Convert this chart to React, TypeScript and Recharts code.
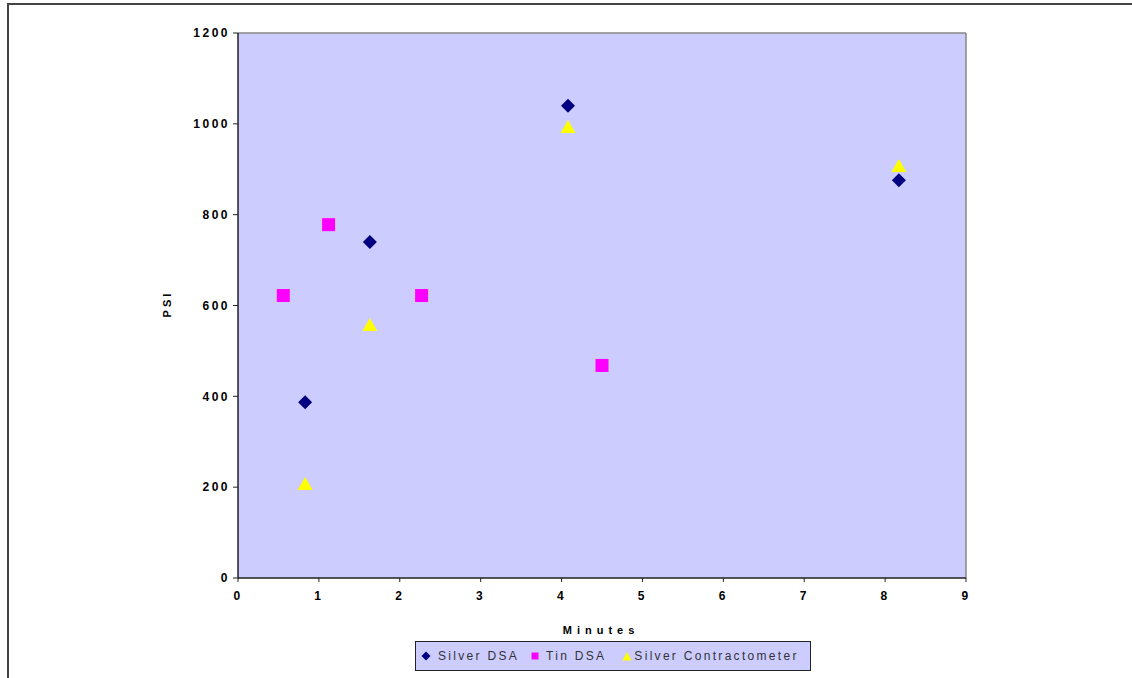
import React from 'react';
import { ScatterChart, Scatter, XAxis, YAxis, CartesianGrid, ReferenceLine, Label } from 'recharts';

const silverDSA = [
  { x: 0.83, y: 387 },
  { x: 1.63, y: 740 },
  { x: 4.08, y: 1040 },
  { x: 8.17, y: 876 },
];
const tinDSA = [
  { x: 0.56, y: 622 },
  { x: 1.12, y: 778 },
  { x: 2.27, y: 622 },
  { x: 4.5, y: 468 },
];
const silverContractometer = [
  { x: 0.83, y: 207 },
  { x: 1.63, y: 557 },
  { x: 4.08, y: 993 },
  { x: 8.17, y: 907 },
];
const xTicks = [0, 1, 2, 3, 4, 5, 6, 7, 8, 9];
const yTicks = [0, 200, 400, 600, 800, 1000, 1200];
const seriesNames = ['Silver DSA', 'Tin DSA', 'Silver Contractometer'];

const FONT = '"Liberation Sans", Arial, sans-serif';

const Diamond = (p: any) => {
  const { cx, cy } = p;
  return <polygon points={`${cx},${cy - 7} ${cx + 7},${cy} ${cx},${cy + 7} ${cx - 7},${cy}`} fill="#000080" />;
};
const Square = (p: any) => {
  const { cx, cy } = p;
  return <rect x={cx - 6.5} y={cy - 6.5} width={13} height={13} fill="#FF00FF" />;
};
const Triangle = (p: any) => {
  const { cx, cy } = p;
  return <polygon points={`${cx},${cy - 7} ${cx + 7.5},${cy + 6} ${cx - 7.5},${cy + 6}`} fill="#FFFF00" />;
};

const tickStyle = { fill: '#000', fontSize: 12, fontWeight: 'bold', fontFamily: FONT, letterSpacing: 2.5 } as any;

const symGap = [7, 6, 2];
const itemGap = [11, 16, 0];

const LegendSym = ({ i }: { i: number }) => {
  const st = { marginRight: symGap[i] };
  if (i === 0)
    return (
      <svg width={10} height={10} style={st}>
        <polygon points="5,0.5 9.5,5 5,9.5 0.5,5" fill="#000080" />
      </svg>
    );
  if (i === 1)
    return (
      <svg width={10} height={10} style={st}>
        <rect x={1.5} y={1.5} width={7} height={7} fill="#FF00FF" />
      </svg>
    );
  return (
    <svg width={10} height={10} style={st}>
      <polygon points="5,1 9.5,9.5 0.5,9.5" fill="#FFFF00" />
    </svg>
  );
};

export default function App() {
  return (
    <div style={{ position: 'absolute', left: 0, top: 0, width: 1132, height: 678, overflow: 'hidden', background: '#fff' }}>
      <div
        style={{
          position: 'absolute',
          left: 7,
          top: 3,
          width: 1300,
          height: 900,
          borderLeft: '2px solid #444',
          borderTop: '2px solid #444',
        }}
      />
      <div style={{ position: 'absolute', left: 0, top: 0 }}>
        <ScatterChart width={1132} height={678} margin={{ top: 33, right: 166, bottom: 70, left: 0 }}>
          <CartesianGrid fill="#CCCCFF" horizontal={false} vertical={false} />
          <XAxis
            type="number"
            dataKey="x"
            domain={[0, 9]}
            ticks={xTicks}
            interval={0}
            height={30}
            axisLine={{ stroke: '#222', strokeWidth: 1.5 }}
            tickLine={{ stroke: '#222' }}
            tickSize={4}
            tickMargin={9}
            tick={tickStyle}
          >
            <Label
              content={() => (
                <text x={601} y={634} textAnchor="middle" fontSize={11} fontWeight="bold" fontFamily={FONT} letterSpacing={5} fill="#000">
                  Minutes
                </text>
              )}
            />
          </XAxis>
          <YAxis
            type="number"
            dataKey="y"
            domain={[0, 1200]}
            ticks={yTicks}
            interval={0}
            width={238}
            axisLine={{ stroke: '#222', strokeWidth: 1.5 }}
            tickLine={{ stroke: '#222' }}
            tickSize={5}
            tickMargin={3}
            tick={tickStyle}
          >
            <Label
              content={() => (
                <text
                  x={171}
                  y={304}
                  transform="rotate(-90 171 304)"
                  textAnchor="middle"
                  fontSize={11}
                  fontWeight="bold"
                  fontFamily={FONT}
                  letterSpacing={3}
                  fill="#000"
                >
                  PSI
                </text>
              )}
            />
          </YAxis>
          <ReferenceLine y={1200} stroke="#888" strokeWidth={1.5} />
          <ReferenceLine x={9} stroke="#888" strokeWidth={1.5} />
          <Scatter name={seriesNames[0]} data={silverDSA} shape={Diamond} isAnimationActive={false} />
          <Scatter name={seriesNames[1]} data={tinDSA} shape={Square} isAnimationActive={false} />
          <Scatter name={seriesNames[2]} data={silverContractometer} shape={Triangle} isAnimationActive={false} />
        </ScatterChart>
      </div>
      <div
        style={{
          position: 'absolute',
          left: 415,
          top: 641,
          width: 396,
          height: 30,
          boxSizing: 'border-box',
          border: '1.5px solid #222',
          background: '#CCCCFF',
          display: 'flex',
          alignItems: 'center',
          paddingLeft: 5,
          fontFamily: FONT,
          fontSize: 12,
          letterSpacing: 2.3,
          color: '#333',
          whiteSpace: 'nowrap',
        }}
      >
        {seriesNames.map((n, i) => (
          <div key={n} style={{ display: 'flex', alignItems: 'center', marginRight: itemGap[i] }}>
            <LegendSym i={i} />
            <span>{n}</span>
          </div>
        ))}
      </div>
    </div>
  );
}
